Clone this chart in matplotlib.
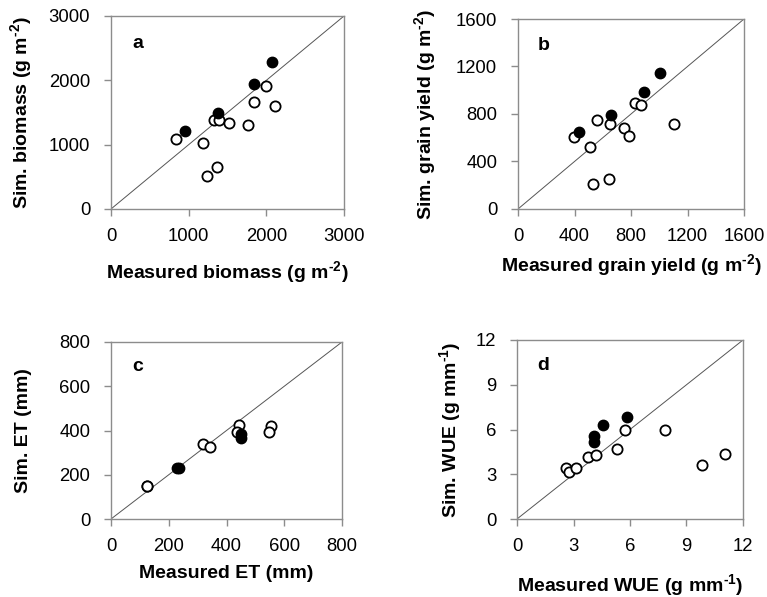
import matplotlib
matplotlib.use('Agg')
from matplotlib import pyplot as plt

plt.rcParams['font.family'] = ['Liberation Sans', 'DejaVu Sans']
plt.rcParams['mathtext.fontset'] = 'custom'
plt.rcParams['mathtext.rm'] = 'Liberation Sans'
plt.rcParams['mathtext.bf'] = 'Liberation Sans:bold'

# (a) biomass, g m-2
bio_meas_fill = [950, 1380, 1844, 2072]
bio_sim_fill = [1220, 1490, 1946, 2279]
bio_meas_open = [842, 1190, 1320, 1393, 1513, 1758, 1844, 1990, 2115, 1234, 1362]
bio_sim_open = [1090, 1022, 1386, 1386, 1334, 1313, 1666, 1915, 1599, 509, 649]

# (b) grain yield, g m-2
gy_meas_fill = [433, 656, 894, 1007]
gy_sim_fill = [646, 789, 982, 1142]
gy_meas_open = [395, 511, 562, 654, 751, 788, 828, 868, 1101, 532, 645]
gy_sim_open = [606, 525, 752, 716, 679, 612, 890, 873, 719, 211, 253]

# (c) ET, mm
et_meas_fill = [229, 235, 450, 449]
et_sim_fill = [230, 230, 383, 367]
et_meas_open = [124, 126, 320, 344, 442, 436, 554, 547]
et_sim_open = [151, 151, 337, 324, 425, 395, 419, 395]

# (d) WUE, g mm-1
wue_meas_fill = [4.09, 4.09, 4.59, 5.82]
wue_sim_fill = [5.56, 5.16, 6.31, 6.84]
wue_meas_open = [2.59, 2.74, 3.14, 3.79, 4.2, 5.29, 5.75, 7.85, 9.81, 11.05]
wue_sim_open = [3.4, 3.18, 3.4, 4.13, 4.29, 4.69, 5.98, 5.96, 3.6, 4.36]

# hyphen (not minus) in the superscripts, like the original
m2 = '$^{\\bf \u20102}$'
mm1 = '$^{\\bf \u20101}$'

panels = [
    # letter, rect (px: left, top, right, bottom), limit, ticks, xlabel, ylabel, ylabel x, xlabel y
    ('a', (111, 16, 344, 209), 3000, [0, 1000, 2000, 3000],
     'Measured biomass (g m' + m2 + ')', 'Sim. biomass (g m' + m2 + ')', -0.382, -0.33,
     bio_meas_fill, bio_sim_fill, bio_meas_open, bio_sim_open),
    ('b', (518, 19, 744, 209), 1600, [0, 400, 800, 1200, 1600],
     'Measured grain yield (g m' + m2 + ')', 'Sim. grain yield (g m' + m2 + ')', -0.41, -0.30,
     gy_meas_fill, gy_sim_fill, gy_meas_open, gy_sim_open),
    ('c', (111, 342, 342, 519), 800, [0, 200, 400, 600, 800],
     'Measured ET (mm)', 'Sim. ET (mm)', -0.378, -0.31,
     et_meas_fill, et_sim_fill, et_meas_open, et_sim_open),
    ('d', (517, 340, 743, 519), 12, [0, 3, 6, 9, 12],
     'Measured WUE (g mm' + mm1 + ')', 'Sim. WUE (g mm' + mm1 + ')', -0.294, -0.37,
     wue_meas_fill, wue_sim_fill, wue_meas_open, wue_sim_open),
]

W, H = 767, 597
fig = plt.figure(figsize=(W / 100, H / 100), dpi=100)

for (letter, (l, t, r, b), lim, ticks, xlab, ylab, ylx, xly,
     mf, sf, mo, so) in panels:
    ax = fig.add_axes([l / W, 1 - b / H, (r - l) / W, (b - t) / H])
    # 1:1 line
    ax.plot([0, lim], [0, lim], color='#555555', lw=0.7, zorder=1)
    ax.scatter(mo, so, s=54, facecolor='white', edgecolor='black', linewidth=1.3, zorder=3)
    ax.scatter(mf, sf, s=56, facecolor='black', edgecolor='black', linewidth=1.0, zorder=4)
    ax.set_xlim(0, lim)
    ax.set_ylim(0, lim)
    ax.set_xticks(ticks)
    ax.set_yticks(ticks)
    for s in ax.spines.values():
        s.set_color('#8c8c8c')
        s.set_linewidth(1.0)
    ax.tick_params(axis='both', direction='out', length=5, width=1.0,
                   color='#8c8c8c', labelsize=13.3)
    ax.tick_params(axis='x', pad=9)
    ax.tick_params(axis='y', pad=10)
    ax.set_xlabel(xlab, fontsize=14, fontweight='bold')
    ax.set_ylabel(ylab, fontsize=14, fontweight='bold')
    ax.xaxis.set_label_coords(0.5, xly)
    ax.yaxis.set_label_coords(ylx, 0.5)
    ax.xaxis.label.set_va('center')
    ax.yaxis.label.set_va('center')
    ax.text(0.115, 0.86, letter, transform=ax.transAxes, fontsize=14,
            fontweight='bold', ha='center', va='center')

fig.savefig('out.png', dpi=100)
